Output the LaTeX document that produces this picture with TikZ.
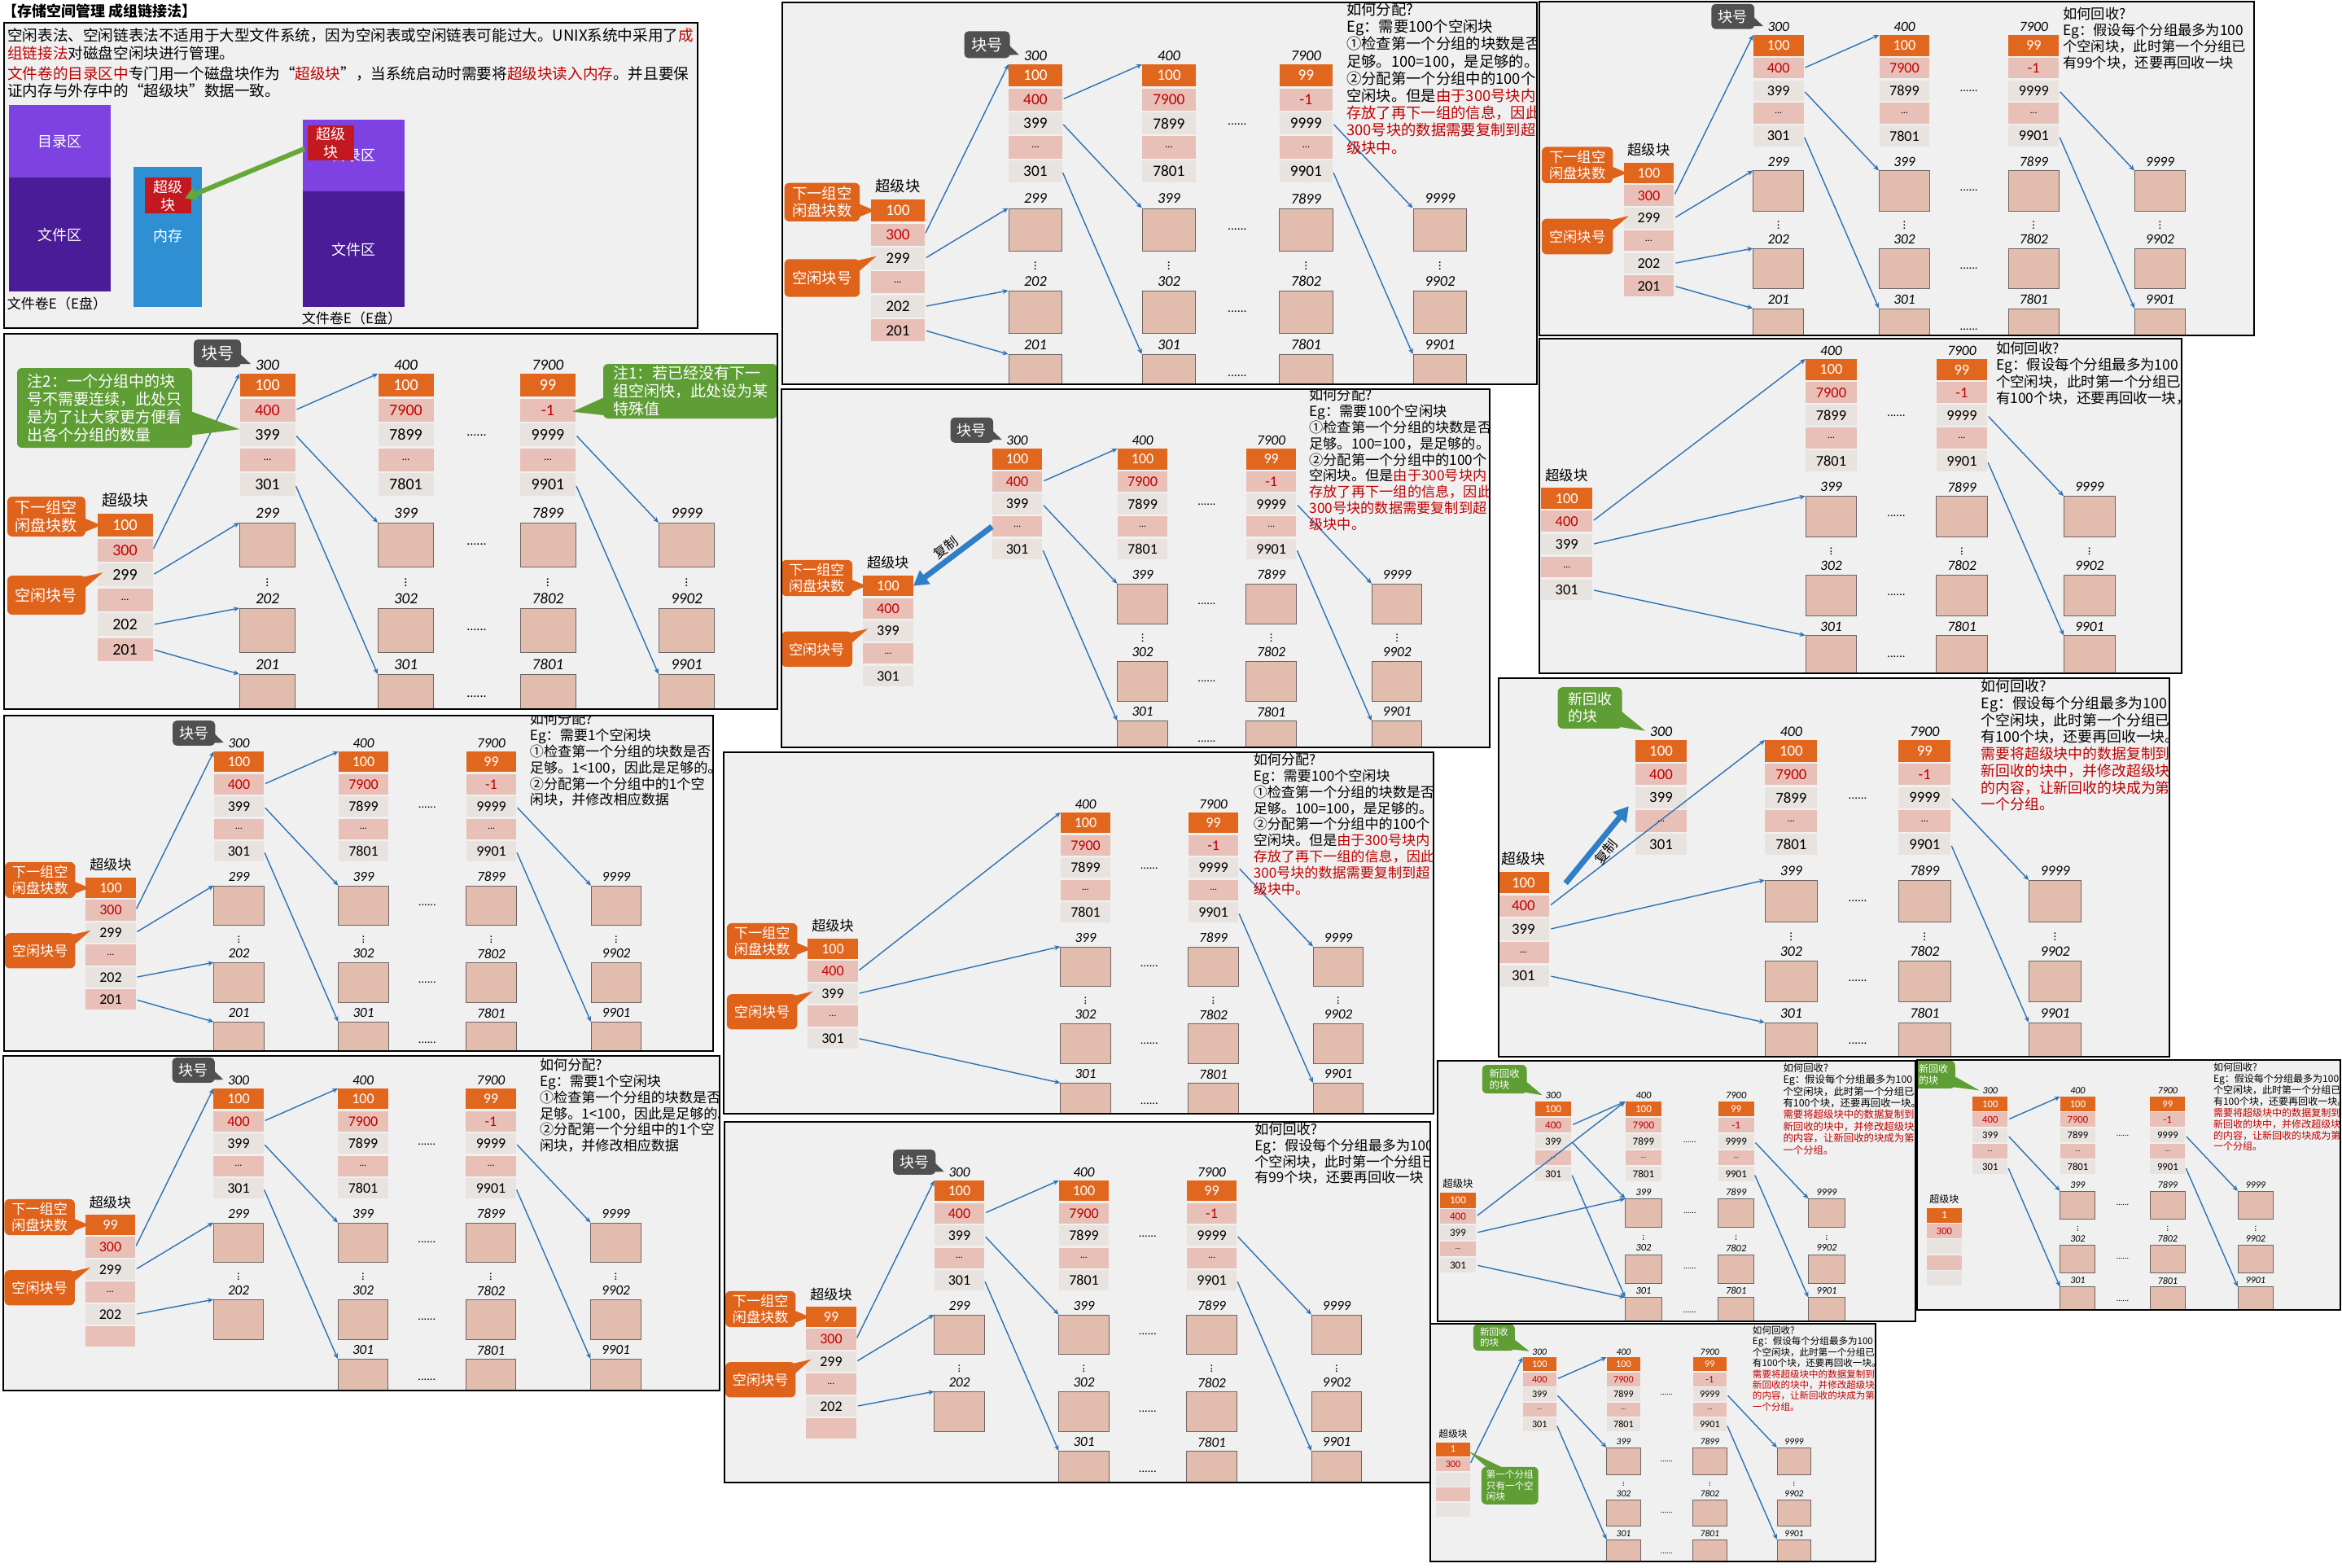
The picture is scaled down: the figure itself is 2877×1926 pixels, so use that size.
\documentclass[tikz,border=0pt]{standalone}
\usepackage{fontspec}
\setmainfont{Carlito}
\newfontfamily\cjk{Noto Sans CJK SC}
\usetikzlibrary{arrows.meta,calc}

\definecolor{panelbg}{HTML}{F0F0F0}
\definecolor{corange}{HTML}{E2671E}
\definecolor{cpink}{HTML}{E8C0B8}
\definecolor{cgray}{HTML}{E8E3DE}
\definecolor{bpink}{HTML}{E2BDAE}
\definecolor{bedge}{HTML}{6E6466}
\definecolor{cred}{HTML}{C00000}
\definecolor{lblue}{HTML}{2E72B4}
\definecolor{cblue}{HTML}{2F7EC6}
\definecolor{calo}{HTML}{E0631C}
\definecolor{calg}{HTML}{5E9E34}
\definecolor{calk}{HTML}{505050}
\definecolor{purA}{HTML}{7E42E2}
\definecolor{purB}{HTML}{4A1C98}
\definecolor{memblue}{HTML}{2E90D2}
\definecolor{boxred}{HTML}{C21820}
\definecolor{garrow}{HTML}{66A838}

\newcommand{\rd}[1]{\textcolor{cred}{#1}}
\newcommand{\celldots}{{\fontsize{13}{13}\selectfont\ldots}}
% one stack of cells, named #1-1, #1-2, ...
\newcommand{\cstack}[4]{%
  \foreach \v [count=\i] in {#4}
    \node[cell\i] (#1-\i) at ({#2},{#3+(\i-1)*30.5}) {\v};}
\newcommand{\grpcol}[4]{%
  \node[grplab] (#1-n) at ({#2},-11) {#3};
  \cstack{#1}{#2}{0}{#4}}
\newcommand{\sblk}[4]{%
  \node[sblab] (#1-n) at ({#2},{#3-17}) {超级块};
  \cstack{#1}{#2}{#3}{#4}}
\newcommand{\blk}[4]{%
  \node[grplab] (#1-n) at ({#2},{#3-12}) {#4};
  \node[blk] (#1) at ({#2},{#3}) {};}
\newcommand{\blkcol}[5]{%
  \blk{#1-1}{#2}{183}{#3}
  \node[vdot] (#1-d) at ({#2},254) {$\vdots$};
  \blk{#1-2}{#2}{288}{#4}
  \blk{#1-3}{#2}{369}{#5}}
\newcommand{\firstcol}[1]{\grpcol{#1-c1}{175}{300}{100,400,399,\celldots,301}}
\newcommand{\rightcols}[1]{%
  \grpcol{#1-c2}{345}{400}{100,7900,7899,\celldots,7801}
  \grpcol{#1-c3}{519.5}{7900}{99,-1,9999,\celldots,9901}
  \blkcol{#1-b2}{345}{399}{302}{301}
  \blkcol{#1-b3}{519.5}{7899}{7802}{7801}
  \blkcol{#1-b4}{690}{9999}{9902}{9901}
  \foreach \y in {76,210,315,397} \node[hdot] (#1-h\y) at (432,\y) {......};}
\newcommand{\tailinks}[1]{%
  \draw[lnk] (#1-c3-3.east) -- (#1-b4-1.north west);
  \draw[lnk] (#1-c3-5.east) -- (#1-b4-3.north west);}
\newcommand{\stdlinks}[1]{%
  \draw[lnk] (#1-c1-2.east) -- (#1-c2-1.north west);
  \draw[lnk] (#1-c1-3.east) -- (#1-b2-1.north west);
  \draw[lnk] (#1-c1-5.east) -- (#1-b2-3.north west);
  \tailinks{#1}}
\newcommand{\sbtofirst}[1]{%
  \draw[lnk] (#1-sb-2.east) -- (#1-c1-1.north west);
  \draw[lnk] (#1-sb-3.east) -- (#1-b1-1.north west);
  \draw[lnk] (#1-sb-5.east) -- (#1-b1-2.north west);}
\newcommand{\sbtosecond}[1]{%
  \draw[lnk] (#1-sb-2.east) -- (#1-c2-1.north west);
  \draw[lnk] (#1-sb-3.east) -- (#1-b2-1.north west);
  \draw[lnk] (#1-sb-5.east) -- (#1-b2-3.north west);}
% callouts: a box and a tail
\newcommand{\tagnum}[1]{%
  \node[callK] (#1-k) at (113.5,-25) {块号};
  \fill[calk] ($(#1-k.east)+(-4,-2)$) -- ($(#1-c1-n.west)+(-6,-1)$) -- ($(#1-k.south east)+(-8,-4)$) -- cycle;}
\newcommand{\tagsb}[1]{%
  \node[callO,minimum width=96,minimum height=49] (#1-o1) at (-96.5,175.5) {下一组空\\闲盘块数};
  \fill[calo] ($(#1-o1.east)+(-4,1)$) -- ($(#1-sb-1.west)+(5,0)$) -- ($(#1-o1.east)+(-4,20)$) -- cycle;
  \node[callO,minimum width=96,minimum height=48] (#1-o2) at (-96.5,272) {空闲块号};
  \fill[calo] ($(#1-o2.north east)+(-12,4)$) -- ($(#1-sb-3.west)+(7,-3)$) -- ($(#1-o2.east)+(-4,-6)$) -- cycle;}
\newcommand{\newtag}[2]{%
  \node[callG,minimum width=84,minimum height=54] (#1-g) at (#2) {新回收\\的块};
  \fill[calg] ($(#1-g.east)+(-4,2)$) -- ($(#1-c1-n.west)+(-6,-1)$) -- ($(#1-g.south east)+(-14,-4)$) -- cycle;}
% texts of the panels
\newcommand{\allocA}{如何分配?\\Eg：需要100个空闲块\\①检查第一个分组的块数是否\\足够。100=100，是足够的。\\②分配第一个分组中的100个\\空闲块。但是\rd{由于300号块内}\\\rd{存放了再下一组的信息，因此}\\\rd{300号块的数据需要复制到超}\\\rd{级块中。}}
\newcommand{\allocB}{如何分配?\\Eg：需要1个空闲块\\①检查第一个分组的块数是否\\足够。1<100，因此是足够的。\\②分配第一个分组中的1个空\\闲块，并修改相应数据}
\newcommand{\reclA}{如何回收?\\Eg：假设每个分组最多为100\\个空闲块，此时第一个分组已\\有99个块，还要再回收一块}
\newcommand{\reclB}{如何回收?\\Eg：假设每个分组最多为100\\个空闲块，此时第一个分组已\\有100个块，还要再回收一块，}
\newcommand{\reclC}{如何回收?\\Eg：假设每个分组最多为100\\个空闲块，此时第一个分组已\\有100个块，还要再回收一块。\\\rd{需要将超级块中的数据复制到}\\\rd{新回收的块中，并修改超级块}\\\rd{的内容，让新回收的块成为第}\\\rd{一个分组。}}

\newenvironment{panel}[6]{%
  \def\pxa{#1}\def\pya{#2}\def\pxb{#3}\def\pyb{#4}%
  \fill[panelbg] (\pxa,\pya) rectangle (\pxb,\pyb);
  \begin{scope}\clip (\pxa,\pya) rectangle (\pxb,\pyb);
  \begin{scope}[shift={(#5)},scale=#6,transform shape]}
 {\end{scope}\end{scope}\draw[frame] (\pxa,\pya) rectangle (\pxb,\pyb);}

\begin{document}
\begin{tikzpicture}[x=1pt,y=-1pt,
   frame/.style={draw=black,line width=1.8},
   cell/.style={anchor=north,minimum width=68,minimum height=28,inner sep=0,font=\fontsize{20}{20}\selectfont},
   cell1/.style={cell,fill=corange,text=white},
   cell2/.style={cell,fill=cpink,text=cred},
   cell3/.style={cell,fill=cgray},
   cell4/.style={cell,fill=cpink},
   cell5/.style={cell,fill=cgray},
   cell6/.style={cell,fill=cpink},
   grplab/.style={font=\itshape\fontsize{19}{19}\selectfont,inner sep=0},
   sblab/.style={font=\cjk\fontsize{19}{19}\selectfont,inner sep=0},
   blk/.style={anchor=north,minimum width=68,minimum height=54,fill=bpink,draw=bedge,line width=1},
   vdot/.style={font=\fontsize{16}{16}\selectfont,inner sep=0},
   hdot/.style={font=\fontsize{16}{16}\selectfont,inner sep=0},
   lnk/.style={draw=lblue,line width=1.4,-{Stealth[length=7,width=6]},shorten <=2},
   note/.style={font=\cjk\fontsize{19}{22}\selectfont,align=left,inner sep=0,anchor=north west},
   callO/.style={rounded corners=6,fill=calo,text=white,font=\cjk\fontsize{19}{22}\selectfont,align=left,inner sep=2},
   callG/.style={callO,fill=calg},
   callK/.style={callO,rounded corners=5,fill=calk,font=\cjk\fontsize{20}{20}\selectfont,minimum width=58,minimum height=34},
   copyarr/.style={draw=cblue,line width=7,-{Triangle[length=18,width=20]}},
   copylab/.style={font=\cjk\fontsize{18}{18}\selectfont,sloped,inner sep=3},
   intro/.style={font=\cjk\fontsize{18.6}{21.8}\selectfont,align=left,inner sep=0,anchor=north west},
   vol/.style={anchor=north west,minimum width=125,inner sep=0,text=white,font=\cjk\fontsize{18}{18}\selectfont},
   vollab/.style={font=\cjk\fontsize{17}{17}\selectfont,inner sep=0},
   sbbox/.style={anchor=north west,minimum width=57,minimum height=44,inner sep=0,fill=boxred,text=white,align=center,font=\cjk\fontsize{18}{22}\selectfont},
   garr/.style={draw=garrow,line width=6,-{Triangle[length=14,width=16]}}]
\useasboundingbox (0,0) rectangle (2877,1926);
\fill[white] (0,0) rectangle (2877,1926);

% introduction
\node[font=\cjk\bfseries\fontsize{18}{18}\selectfont,anchor=west,inner sep=0] (ttl) at (3,14) {【存储空间管理 成组链接法】};
\draw[frame,fill=panelbg] (5,28) rectangle (857,403);
\node[intro] (par1) at (9,35) {空闲表法、空闲链表法不适用于大型文件系统，因为空闲表或空闲链表可能过大。UNIX系统中采用了\rd{成}\\\rd{组链接法}对磁盘空闲块进行管理。};
\node[intro] (par2) at (9,81) {\rd{文件卷的目录区中}专门用一个磁盘块作为“\rd{超级块}”，当系统启动时需要将\rd{超级块读入内存}。并且要保\\证内存与外存中的“超级块”数据一致。};
\node[vol,fill=purA,minimum height=89] (d1a) at (11,129) {目录区};
\node[vol,fill=purB,minimum height=140] (d1b) at (11,218) {文件区};
\node[vollab] (d1n) at (70,373) {文件卷E（E盘）};
\node[anchor=north west,minimum width=84,minimum height=172,fill=memblue] (mem) at (164,205) {};
\node[text=white,font=\cjk\fontsize{18}{18}\selectfont] (memn) at (206,290) {内存};
\node[sbbox] (msb) at (178,218) {超级\\块};
\node[vol,fill=purA,minimum height=88] (d2a) at (372,147) {目录区};
\node[vol,fill=purB,minimum height=142] (d2b) at (372,235) {文件区};
\node[sbbox,minimum height=43] (dsb) at (378,154) {超级\\块};
\node[vollab] (d2n) at (432,391) {文件卷E（E盘）};
\draw[garr,shorten >=-9] ($(dsb.west)+(-4,7)$) -- (msb.east);

% P1: the annotated structure
\begin{panel}{5}{410}{955}{871}{153.5,459}{1}
  \sblk{p1-sb}{0}{172}{100,300,299,\celldots,202,201}
  \firstcol{p1}
  \blkcol{p1-b1}{175}{299}{202}{201}
  \rightcols{p1}
  \sbtofirst{p1}
  \draw[lnk] (p1-sb-6.east) -- (p1-b1-3.north west);
  \stdlinks{p1}
  \tagnum{p1}
  \tagsb{p1}
  \node[callG,minimum width=215,minimum height=98] (p1-g2) at (-25,42) {注2：一个分组中的块\\号不需要连续，此处只\\是为了让大家更方便看\\出各个分组的数量};
  \fill[calg] ($(p1-g2.east)+(-5,3)$) -- ($(p1-c1-3.west)+(0,-7)$) -- ($(p1-g2.east)+(-5,34)$) -- cycle;
  \node[callG,minimum width=214,minimum height=67] (p1-g1) at (694.5,21.5) {注1：若已经没有下一\\组空闲快，此处设为某\\特殊值};
  \fill[calg] ($(p1-g1.west)+(5,6)$) -- ($(p1-c3-2.east)+(-4,2)$) -- ($(p1-g1.west)+(5,30)$) -- cycle;
\end{panel}

% P2: allocating 100 blocks
\begin{panel}{961}{3}{1888}{472}{1103,79}{.965}
  \sblk{p2-sb}{0}{172}{100,300,299,\celldots,202,201}
  \firstcol{p2}
  \blkcol{p2-b1}{175}{299}{202}{201}
  \rightcols{p2}
  \sbtofirst{p2}
  \draw[lnk] (p2-sb-6.east) -- (p2-b1-3.north west);
  \stdlinks{p2}
  \tagnum{p2}
  \tagsb{p2}
  \node[note] (p2-t) at (571,-79) {\allocA};
\end{panel}

% P3: recycling with 99 blocks
\begin{panel}{1891}{2}{2769}{412}{2025.5,43}{.91}
  \sblk{p3-sb}{0}{172}{100,300,299,\celldots,202,201}
  \firstcol{p3}
  \blkcol{p3-b1}{175}{299}{202}{201}
  \rightcols{p3}
  \sbtofirst{p3}
  \draw[lnk] (p3-sb-6.east) -- (p3-b1-3.north west);
  \stdlinks{p3}
  \tagnum{p3}
  \tagsb{p3}
  \node[note] (p3-t) at (559,-38) {\reclA};
\end{panel}

% P4: copy block 300 into the superblock
\begin{panel}{960}{478}{1830}{918}{1091,551}{.906}
  \sblk{p4-sb}{0}{172}{100,400,399,\celldots,301}
  \firstcol{p4}
  \rightcols{p4}
  \stdlinks{p4}
  \draw[copyarr] (p4-c1-4.west) -- node[copylab,above] {复制} (p4-sb-1.east);
  \tagnum{p4}
  \tagsb{p4}
  \node[note] (p4-t) at (571,-82) {\allocA};
\end{panel}

% P5: recycling with 100 blocks
\begin{panel}{1891}{416}{2680}{827}{1932,441}{.92}
  \sblk{p5-sb}{-8}{172}{100,400,399,\celldots,301}
  \rightcols{p5}
  \sbtosecond{p5}
  \tailinks{p5}
  \node[note] (p5-t) at (565,-23) {\reclB};
\end{panel}

% P6: allocating 1 block
\begin{panel}{5}{879}{876}{1291}{136,923}{.9}
  \sblk{p6-sb}{0}{172}{100,300,299,\celldots,202,201}
  \firstcol{p6}
  \blkcol{p6-b1}{175}{299}{202}{201}
  \rightcols{p6}
  \sbtofirst{p6}
  \draw[lnk] (p6-sb-6.east) -- (p6-b1-3.north west);
  \stdlinks{p6}
  \tagnum{p6}
  \tagsb{p6}
  \node[note] (p6-t) at (572,-53) {\allocB};
\end{panel}

% P7: after allocating the first group
\begin{panel}{889}{924}{1761}{1368}{1023,998}{.9}
  \sblk{p7-sb}{0}{172}{100,400,399,\celldots,301}
  \rightcols{p7}
  \sbtosecond{p7}
  \tailinks{p7}
  \tagsb{p7}
  \node[note] (p7-t) at (574,-81) {\allocA};
\end{panel}

% P8: copy the superblock into the new block
\begin{panel}{1841}{833}{2665}{1298}{1876,909}{.94}
  \sblk{p8-sb}{-5}{172}{100,400,399,\celldots,301}
  \firstcol{p8}
  \rightcols{p8}
  \sbtosecond{p8}
  \tailinks{p8}
  \draw[copyarr] ($(p8-sb-1.east)+(21,1)$) -- node[copylab,below] {复制} ($(p8-c1-3.south west)+(-8,-3)$);
  \newtag{p8}{82,-42}
  \node[note] (p8-t) at (593,-79) {\reclC};
\end{panel}

% P9: after allocating 1 block
\begin{panel}{4}{1297}{884}{1708}{135.5,1337}{.9}
  \sblk{p9-sb}{0}{172}{99,300,299,\celldots,202,{}}
  \firstcol{p9}
  \blk{p9-b1-1}{175}{183}{299}
  \node[vdot] (p9-b1-d) at (175,254) {$\vdots$};
  \blk{p9-b1-2}{175}{288}{202}
  \rightcols{p9}
  \sbtofirst{p9}
  \stdlinks{p9}
  \tagnum{p9}
  \tagsb{p9}
  \node[note] (p9-t) at (586,-41) {\allocB};
\end{panel}

% P10: recycling with 99 blocks
\begin{panel}{890}{1378}{1757}{1821}{1021,1450}{.9}
  \sblk{p10-sb}{0}{172}{99,300,299,\celldots,202,{}}
  \firstcol{p10}
  \blk{p10-b1-1}{175}{183}{299}
  \node[vdot] (p10-b1-d) at (175,254) {$\vdots$};
  \blk{p10-b1-2}{175}{288}{202}
  \rightcols{p10}
  \sbtofirst{p10}
  \stdlinks{p10}
  \tagnum{p10}
  \tagsb{p10}
  \node[note] (p10-t) at (578,-79) {\reclA};
\end{panel}

% P11: new block becomes the first group
\begin{panel}{1766}{1303}{2353}{1623}{1794,1353}{.652}
  \sblk{p11-sb}{-4.6}{172}{100,400,399,\celldots,301}
  \firstcol{p11}
  \rightcols{p11}
  \sbtosecond{p11}
  \stdlinks{p11}
  \newtag{p11}{83,-42}
  \node[note] (p11-t) at (608,-72) {\reclC};
\end{panel}

% P12: superblock rewritten
\begin{panel}{2355}{1302}{2875}{1609}{2334,1347}{.633}
  \sblk{p12-sb}{86}{216}{1,300,{},{},{}}
  \firstcol{p12}
  \rightcols{p12}
  \stdlinks{p12}
  \newtag{p12}{65,-43}
  \node[note] (p12-t) at (608,-66) {\reclC};
\end{panel}

% P13: first group holds one block
\begin{panel}{1757}{1626}{2304}{1918}{1785,1667}{.607}
  \sblk{p13-sb}{0}{172}{1,300,{},{},{}}
  \firstcol{p13}
  \rightcols{p13}
  \draw[lnk] (p13-sb-2.east) -- (p13-c1-1.north west);
  \stdlinks{p13}
  \newtag{p13}{83,-40}
  \node[callG,minimum width=115,minimum height=76] (p13-g2) at (115,260) {第一个分组\\只有一个空\\闲块};
  \fill[calg] ($(p13-g2.north west)+(14,4)$) -- ($(p13-sb-1.east)+(-3,4)$) -- ($(p13-g2.north west)+(48,4)$) -- cycle;
  \node[note] (p13-t) at (606,-63) {\reclC};
\end{panel}
\end{tikzpicture}
\end{document}
